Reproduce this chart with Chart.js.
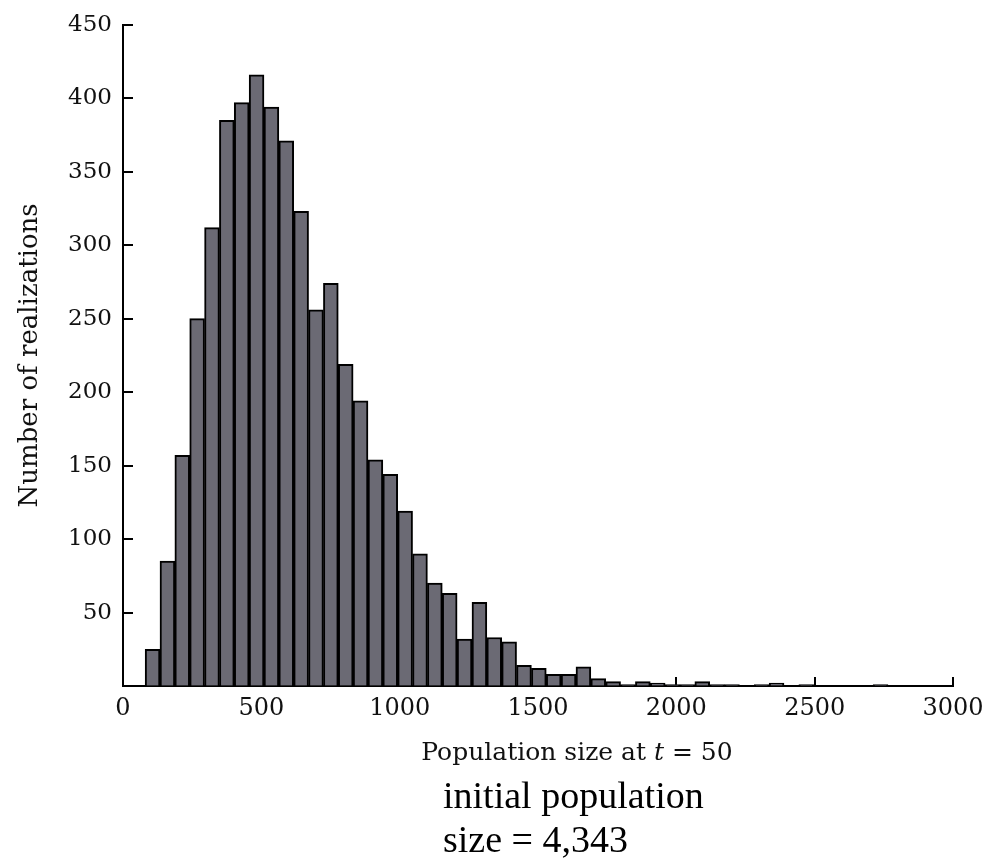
<!DOCTYPE html>
<html>
<head>
<meta charset="utf-8">
<script src="https://cdn.jsdelivr.net/npm/chart.js@4"></script>
<style>
  html, body { margin: 0; padding: 0; background: #fff; }
  #wrap { position: relative; width: 993px; height: 861px; }
  #chart { position: absolute; left: 0; top: 0; }
  .xtitle {
    position: absolute; left: 377px; top: 739px; width: 400px;
    text-align: center; font: 25px/25px "DejaVu Serif", serif; color: #111;
  }
  .note {
    position: absolute; left: 443px; top: 773px;
    font: 38px/44px "Liberation Serif", serif; color: #000;
  }
</style>
</head>
<body>
<div id="wrap">
  <canvas id="chart" width="993" height="861"></canvas>
  <div class="xtitle">Population size at <i>t</i> = 50</div>
  <div class="note">initial population<br>size = 4,343</div>
</div>
<script>
// histogram bins (population size at t = 50)
const binStart = 80;
const binWidth = 53.7;
const counts = [
  25, 85, 157, 250, 312, 385, 397, 416, 394, 371,
  323, 256, 274, 219, 194, 154, 144, 119, 90, 70,
  63, 32, 57, 33, 30, 14, 12, 8, 8, 13,
  5, 3, 1, 3, 2, 1, 1, 3, 1, 1,
  0, 1, 2, 0, 1, 0, 0, 0, 0, 1
];
const xTicks = [0, 500, 1000, 1500, 2000, 2500, 3000];
const yTicks = [50, 100, 150, 200, 250, 300, 350, 400, 450];

const points = counts.map((c, i) => ({ x: binStart + binWidth * (i + 0.5), y: c }));

// tick marks drawn inward, behind the bars
const inwardTicks = {
  id: 'inwardTicks',
  beforeDatasetsDraw(chart) {
    const { ctx, chartArea, scales: { x, y } } = chart;
    ctx.save();
    ctx.strokeStyle = '#000';
    ctx.lineWidth = 2;
    ctx.beginPath();
    yTicks.forEach(v => {
      const py = Math.round(y.getPixelForValue(v));
      ctx.moveTo(chartArea.left, py);
      ctx.lineTo(chartArea.left + 10, py);
    });
    xTicks.forEach(v => {
      if (v === 0) return;
      const px = Math.round(x.getPixelForValue(v));
      ctx.moveTo(px, chartArea.bottom);
      ctx.lineTo(px, chartArea.bottom - 9);
    });
    ctx.stroke();
    ctx.restore();
  }
};

new Chart(document.getElementById('chart'), {
  type: 'bar',
  data: {
    datasets: [{
      data: points,
      backgroundColor: '#6b6a74',
      borderColor: '#000',
      borderWidth: 2,
      barPercentage: 1,
      categoryPercentage: 1
    }]
  },
  plugins: [inwardTicks],
  options: {
    responsive: false,
    animation: false,
    layout: { padding: { top: 24, right: 40, bottom: 0, left: 0 } },
    plugins: { legend: { display: false }, tooltip: { enabled: false } },
    scales: {
      x: {
        type: 'linear',
        offset: false,
        min: 0,
        max: 3000,
        afterBuildTicks: s => { s.ticks = xTicks.map(v => ({ value: v })); },
        afterFit: s => { s.height = 175; },
        grid: { drawOnChartArea: false, drawTicks: false },
        border: { display: true, color: '#000', width: 2 },
        ticks: {
          padding: 8,
          color: '#111',
          font: { family: 'DejaVu Serif', size: 24 },
          maxRotation: 0,
          autoSkip: false,
          callback: v => String(v)
        }
      },
      y: {
        min: 0,
        max: 450,
        afterBuildTicks: s => { s.ticks = [0].concat(yTicks).map(v => ({ value: v })); },
        afterFit: s => { s.width = 123; },
        grid: { drawOnChartArea: false, drawTicks: false },
        border: { display: true, color: '#000', width: 2 },
        ticks: {
          padding: 11,
          color: '#111',
          font: { family: 'DejaVu Serif', size: 23 },
          callback: v => (v === 0 ? '' : String(v))
        },
        title: {
          display: true,
          text: 'Number of realizations',
          color: '#111',
          font: { family: 'DejaVu Serif', size: 26 },
          padding: { top: 15, bottom: 0 }
        }
      }
    }
  }
});
</script>
</body>
</html>
